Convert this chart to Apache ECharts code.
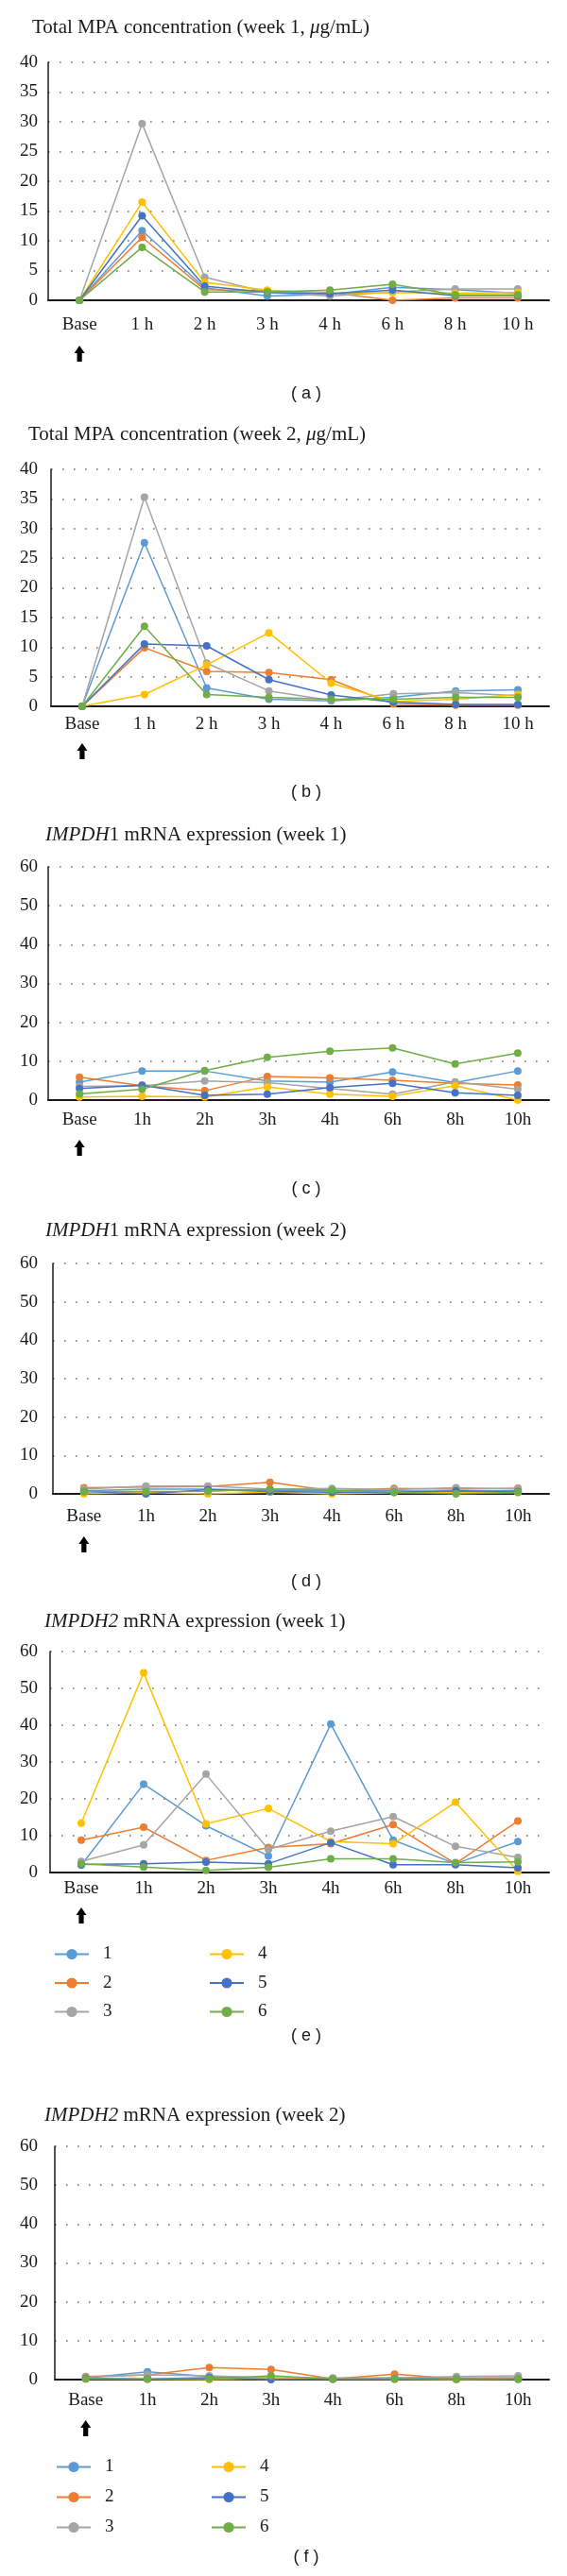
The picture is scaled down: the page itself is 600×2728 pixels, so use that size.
<!DOCTYPE html>
<html>
<head>
<meta charset="utf-8">
<script src="https://cdn.jsdelivr.net/npm/echarts@6/dist/echarts.min.js"></script>
<style>
html,body{margin:0;padding:0;background:#fff;}
#chart{width:600px;height:2728px;}
</style>
</head>
<body>
<div id="chart"></div>
<script>
// ---- data ----
const categories = ['Base', '1h', '2h', '3h', '4h', '6h', '8h', '10h'];
const categoriesSpaced = ['Base', '1 h', '2 h', '3 h', '4 h', '6 h', '8 h', '10 h'];
const seriesNames = ['1', '2', '3', '4', '5', '6'];
const seriesColors = ['#5B9BD5', '#ED7D31', '#A5A5A5', '#FFC000', '#4472C4', '#70AD47'];

// (a) Total MPA concentration, week 1 (µg/mL)
const mpaWeek1 = [
  [0, 11.7, 2.1, 0.7, 1.0, 2.2, 1.8, 1.2],
  [0, 10.6, 1.8, 1.6, 1.3, 0.0, 0.4, 0.4],
  [0, 29.7, 3.9, 1.3, 0.7, 1.4, 1.9, 1.9],
  [0, 16.5, 3.0, 1.7, 1.2, 1.3, 1.2, 1.3],
  [0, 14.2, 2.4, 1.3, 1.1, 1.7, 0.8, 0.8],
  [0, 8.9, 1.4, 1.4, 1.7, 2.7, 0.9, 0.9]
];
// (b) Total MPA concentration, week 2 (µg/mL)
const mpaWeek2 = [
  [0, 27.6, 3.1, 1.2, 0.9, 1.5, 2.6, 2.8],
  [0, 9.9, 5.9, 5.7, 4.5, 0.4, 0.2, 0.2],
  [0, 35.3, 7.3, 2.6, 1.0, 2.1, 2.3, 1.8],
  [0, 2.0, 7.0, 12.4, 3.9, 0.8, 1.2, 2.0],
  [0, 10.5, 10.2, 4.5, 1.9, 0.7, 0.3, 0.3],
  [0, 13.5, 2.0, 1.5, 1.2, 1.2, 1.5, 1.5]
];
// (c) IMPDH1 mRNA expression, week 1
const impdh1Week1 = [
  [4.6, 7.5, 7.5, 4.9, 4.6, 7.2, 4.5, 7.5],
  [5.9, 3.7, 2.4, 6.1, 5.7, 5.1, 4.3, 3.9],
  [3.5, 3.7, 4.9, 4.5, 3.0, 1.5, 4.7, 2.8],
  [0.8, 1.0, 0.8, 3.4, 1.5, 1.0, 3.7, 0.0],
  [3.0, 3.8, 1.2, 1.5, 3.2, 4.3, 1.9, 1.2],
  [1.6, 2.8, 7.6, 11.0, 12.6, 13.4, 9.3, 12.1]
];
// (d) IMPDH1 mRNA expression, week 2
const impdh1Week2 = [
  [0.8, 1.2, 1.2, 0.9, 0.8, 0.8, 0.6, 0.8],
  [1.6, 1.8, 1.9, 3.0, 0.8, 1.4, 1.2, 1.5],
  [1.2, 2.0, 2.0, 1.2, 1.4, 1.1, 1.6, 1.2],
  [0.0, 0.3, 0.0, 0.4, 0.0, 0.3, 0.3, 0.3],
  [0.6, 0.0, 1.1, 0.6, 0.4, 0.4, 0.8, 0.6],
  [0.6, 0.6, 0.7, 1.2, 1.0, 0.4, 0.0, 0.4]
];
// (e) IMPDH2 mRNA expression, week 1
const impdh2Week1 = [
  [2.0, 24.0, 12.7, 4.5, 40.3, 8.8, 2.4, 8.4],
  [8.8, 12.3, 3.3, 6.8, 7.8, 13.0, 2.4, 14.0],
  [3.0, 7.5, 26.7, 6.3, 11.2, 15.2, 7.1, 4.1],
  [13.4, 54.2, 13.2, 17.4, 8.4, 7.8, 19.1, 0.3],
  [2.2, 2.4, 2.8, 2.4, 8.1, 2.1, 2.1, 1.3],
  [2.4, 1.5, 0.6, 1.4, 3.7, 3.7, 2.7, 2.9]
];
// (f) IMPDH2 mRNA expression, week 2
const impdh2Week2 = [
  [0.4, 2.0, 0.8, 0.4, 0.2, 0.4, 0.4, 0.4],
  [0.8, 1.2, 3.1, 2.6, 0.2, 1.4, 0.2, 0.4],
  [0.6, 1.2, 1.0, 0.4, 0.4, 0.4, 0.8, 1.0],
  [0.1, 0.1, 0.0, 0.2, 0.1, 0.1, 0.0, 0.1],
  [0.3, 0.2, 0.5, 0.0, 0.1, 0.2, 0.1, 0.1],
  [0.2, 0.1, 0.2, 1.0, 0.2, 0.1, 0.1, 0.1]
];
const yTicksMPA = [0, 40, 5];
const yTicksMRNA = [0, 60, 10];

// ---- layout ----
const SERIF = 'Liberation Serif';
const SANS = 'Liberation Sans';
const panels = [
  {data: mpaWeek1, cats: categoriesSpaced, ticks: yTicksMPA, top: 66, bottom: 318, left: 51, lblMargin: 17, arrowTop: 366,
   title: 'Total MPA concentration (week 1, {i|μ}g/mL)', titleX: 34, titleY: 32, caption: '( a )', capY: 417},
  {data: mpaWeek2, cats: categoriesSpaced, ticks: yTicksMPA, top: 497, bottom: 748, left: 54, lblMargin: 10, arrowTop: 787,
   title: 'Total MPA concentration (week 2, {i|μ}g/mL)', titleX: 30, titleY: 463, caption: '( b )', capY: 839},
  {data: impdh1Week1, cats: categories, ticks: yTicksMRNA, top: 918, bottom: 1165, left: 51, lblMargin: 12, arrowTop: 1207,
   title: '{i|IMPDH}1 mRNA expression (week 1)', titleX: 48, titleY: 887, caption: '( c )', capY: 1259},
  {data: impdh1Week2, cats: categories, ticks: yTicksMRNA, top: 1338, bottom: 1582, left: 56, lblMargin: 15, arrowTop: 1627,
   title: '{i|IMPDH}1 mRNA expression (week 2)', titleX: 48, titleY: 1306, caption: '( d )', capY: 1675},
  {data: impdh2Week1, cats: categories, ticks: yTicksMRNA, top: 1749, bottom: 1983, left: 53, lblMargin: 8, arrowTop: 2020,
   title: '{i|IMPDH2} mRNA expression (week 1)', titleX: 47, titleY: 1720, caption: '( e )', capY: 2156,
   legendTop: 2055, legendGap: 11.5, legCol1: 52, legCol2: 216},
  {data: impdh2Week2, cats: categories, ticks: yTicksMRNA, top: 2273, bottom: 2520, left: 58, lblMargin: 13, arrowTop: 2563,
   title: '{i|IMPDH2} mRNA expression (week 2)', titleX: 47, titleY: 2243, caption: '( f )', capY: 2708,
   legendTop: 2598, legendGap: 13, legCol1: 54, legCol2: 218}
];
const RIGHT_EDGE = 581;

const grids = [], xAxes = [], yAxes = [], series = [], graphics = [], legends = [];
panels.forEach((p, i) => {
  grids.push({left: p.left, width: RIGHT_EDGE - p.left, top: p.top, height: p.bottom - p.top, containLabel: false});
  xAxes.push({
    type: 'category', gridIndex: i, data: p.cats, boundaryGap: true,
    axisLine: {lineStyle: {color: '#1a1a1a', width: 2}},
    axisTick: {show: false},
    axisLabel: {color: '#1a1a1a', fontFamily: SERIF, fontSize: 19, margin: p.lblMargin, interval: 0},
    splitLine: {show: false}
  });
  yAxes.push({
    type: 'value', gridIndex: i, min: p.ticks[0], max: p.ticks[1], interval: p.ticks[2],
    axisLine: {show: true, lineStyle: {color: '#1a1a1a', width: 1.5}},
    axisTick: {show: false},
    axisLabel: {color: '#1a1a1a', fontFamily: SERIF, fontSize: 19, margin: p.left - 40},
    splitLine: {show: true, lineStyle: {color: '#707070', width: 1.6, type: [1.6, 10.4]}}
  });
  p.data.forEach((vals, k) => {
    series.push({
      type: 'line', name: seriesNames[k], xAxisIndex: i, yAxisIndex: i, data: vals,
      symbol: 'circle', symbolSize: 8, showSymbol: true,
      lineStyle: {color: seriesColors[k], width: 1.5},
      itemStyle: {color: seriesColors[k], borderWidth: 0},
      emphasis: {disabled: true}, animation: false
    });
  });
  graphics.push({
    id: 'title' + i, type: 'text', left: p.titleX, top: p.titleY - 13,
    style: {text: p.title, fontFamily: SERIF, fontSize: 21, fill: '#1a1a1a',
      rich: {i: {fontFamily: SERIF, fontSize: 21, fontStyle: 'italic', fill: '#1a1a1a'}}}
  });
  graphics.push({
    id: 'cap' + i, type: 'text', x: 324, y: p.capY,
    style: {text: p.caption, fontFamily: SANS, fontSize: 18, fill: '#1a1a1a', align: 'center', verticalAlign: 'middle'}
  });
  if (p.legendTop) {
    const common = {orient: 'vertical', top: p.legendTop, itemWidth: 36, itemHeight: 14, itemGap: p.legendGap,
      textStyle: {fontFamily: SERIF, fontSize: 19, color: '#1a1a1a', padding: [0, 0, 0, 10]}, selectedMode: false};
    legends.push(Object.assign({left: p.legCol1, data: ['1', '2', '3']}, common));
    legends.push(Object.assign({left: p.legCol2, data: ['4', '5', '6']}, common));
  }
});

const chart = echarts.init(document.getElementById('chart'), null, {renderer: 'canvas'});
chart.setOption({
  animation: false,
  backgroundColor: '#ffffff',
  grid: grids, xAxis: xAxes, yAxis: yAxes, series: series,
  legend: legends,
  graphic: {elements: graphics}
});

// arrows under "Base" on each panel
const arrows = panels.map((p, i) => {
  const x = chart.convertToPixel({xAxisIndex: i}, 'Base');
  const t = p.arrowTop;
  return {
    id: 'arrow' + i, type: 'polygon',
    shape: {points: [[x, t], [x + 5.5, t + 8], [x + 2.6, t + 8], [x + 2.6, t + 17], [x - 2.6, t + 17], [x - 2.6, t + 8], [x - 5.5, t + 8]]},
    style: {fill: '#000'}
  };
});
chart.setOption({graphic: {elements: arrows}});
</script>
</body>
</html>
